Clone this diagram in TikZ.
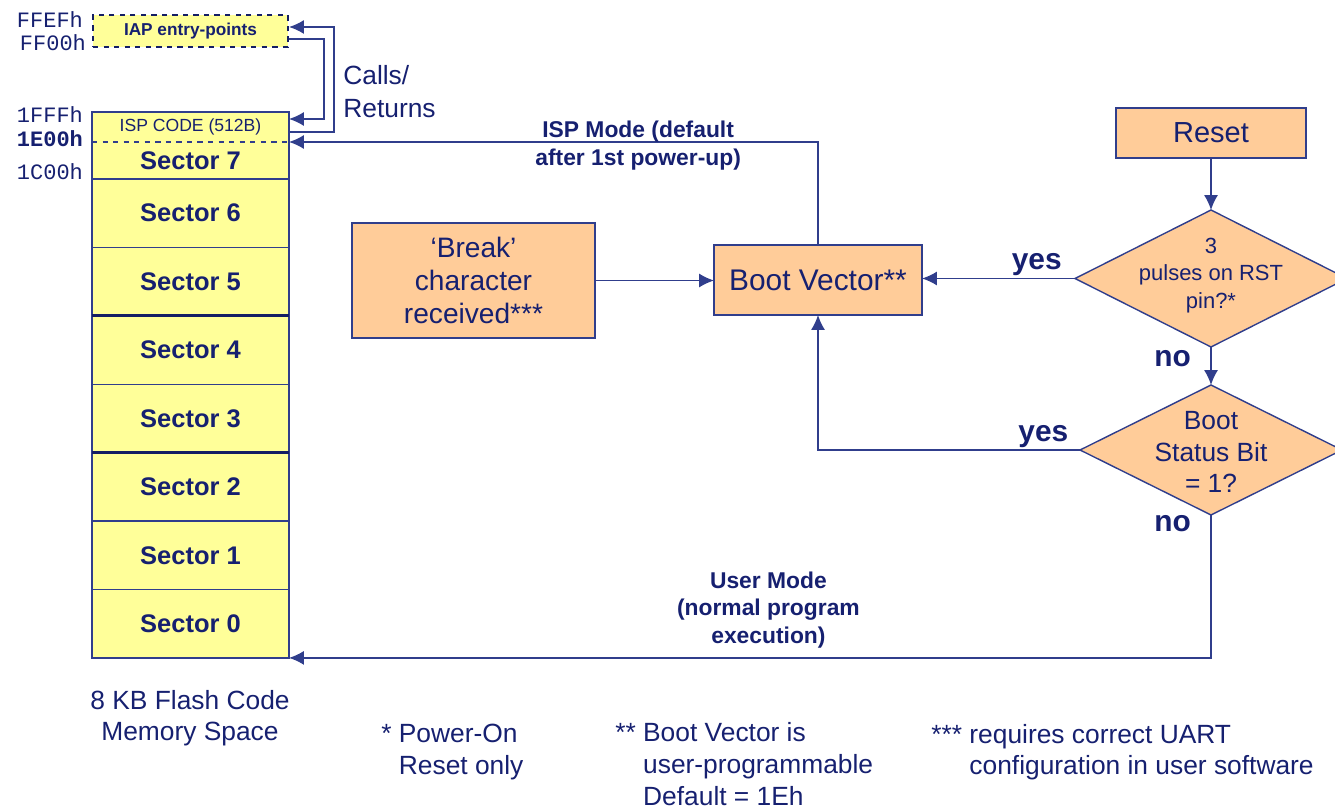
\documentclass[tikz,border=0pt]{standalone}
\usepackage{fontspec}
\setmainfont{Liberation Sans}
\setmonofont{Liberation Mono}
\usepackage{tikz}
\usetikzlibrary{calc,shapes,arrows.meta,positioning}
\definecolor{texto}{RGB}{22,32,112}
\definecolor{linea}{RGB}{48,62,140}
\definecolor{oscura}{RGB}{20,30,100}
\definecolor{amarillo}{RGB}{255,255,153}
\definecolor{naranja}{RGB}{255,204,153}
\tikzset{
    dir/.style={anchor=east,inner sep=1pt,text=texto,font=\ttfamily\fontsize{12.5}{14}\selectfont},
    sector/.style={rectangle,draw=linea,fill=amarillo,line width=0.8pt,outer sep=0pt,minimum width=3.94cm,minimum height=1.3686cm,text=texto,font=\bfseries\fontsize{14.5}{17}\selectfont},
    iapbox/.style={rectangle,draw=oscura,dashed,line width=1.2pt,fill=amarillo,minimum width=3.9cm,minimum height=0.64cm,text=texto,font=\bfseries\fontsize{9.8}{12}\selectfont},
    bloque/.style={rectangle,draw=linea,fill=naranja,line width=0.8pt,outer sep=0pt,align=center,text=texto},
    decision/.style={diamond,draw=linea,fill=naranja,line width=0.8pt,outer sep=0pt,inner sep=0pt},
    texdec/.style={align=center,text=texto,inner sep=0pt},
    resp/.style={text=texto,inner sep=1pt,font=\bfseries\fontsize{17}{20}\selectfont},
    modo/.style={align=center,text=texto,font=\bfseries\fontsize{13}{16.4}\selectfont},
    nota/.style={anchor=west,align=left,inner sep=0pt,text=texto,font=\fontsize{15}{18}\selectfont},
    flecha/.style={draw=linea,line width=0.85pt,-{Latex[length=8.5pt,width=8pt]}},
}
\begin{document}
\begin{tikzpicture}[x=0.02cm,y=-0.02cm]
\useasboundingbox (0,0) rectangle (1335,810);

\node[iapbox] (iap) at (190.5,31) {IAP entry-points};
\node[sector,draw=none,minimum height=0.6cm,font=\fontsize{10}{12}\selectfont] (isp) at (190.5,127) {ISP CODE (512B)};
\node[sector,draw=none,minimum height=0.74cm,below=0pt of isp] (sec7) {Sector 7};
\foreach \i [evaluate=\i as \j using int(\i+1)] in {6,...,0}
    \node[sector,below=0pt of sec\j] (sec\i) {Sector \i};
\draw[linea,line width=0.8pt] (isp.north west) rectangle (sec7.south east);
\draw[linea,line width=0.8pt,dashed] (isp.south west) -- (isp.south east);
\draw[oscura,line width=1.6pt] (sec5.south west) -- (sec5.south east);
\draw[oscura,line width=1.6pt] (sec3.south west) -- (sec3.south east);

\node[dir] (a1) at (85,20) {FFEFh};
\node[dir] (a2) at (88,43) {FF00h};
\node[dir] (a3) at (85,115) {1FFFh};
\node[dir,font=\ttfamily\bfseries\fontsize{12.5}{14}\selectfont] (a4) at (85,139) {1E00h};
\node[dir] (a5) at (85,172) {1C00h};

\draw[flecha] ($(iap.east)+(0,8)$) -- ++(35,0) |- ($(isp.east)+(0,-8)$);
\draw[flecha] ($(isp.east)+(0,5)$) -- ++(45,0) |- ($(iap.east)+(0,-4)$);
\node[anchor=west,align=left,inner sep=0pt,text=texto,font=\fontsize{15}{18.7}\selectfont] (llamadas) at (343,91.5) {Calls/\\Returns};

\node[bloque,minimum width=4.86cm,minimum height=2.3cm,font=\fontsize{16}{18.7}\selectfont] (brk) at (473.5,280.5) {‘Break’\\character\\received***};
\node[bloque,minimum width=4.16cm,minimum height=1.4cm,font=\fontsize{17}{20}\selectfont] (boot) at (818,280) {Boot Vector**};
\node[bloque,minimum width=3.8cm,minimum height=1cm,font=\fontsize{16.5}{20}\selectfont] (reset) at (1211,133) {Reset};
\node[decision,minimum width=5.44cm,minimum height=2.74cm] (d1) at (1211,278.5) {};
\node[texdec,font=\fontsize{12.5}{15.6}\selectfont] (d1txt) at ($(d1)+(0,-3)$) {3\\pulses on RST\\pin?*};
\node[decision,minimum width=5.24cm,minimum height=2.6cm] (d2) at (1211,450) {};
\node[texdec,font=\fontsize{15}{18}\selectfont] (d2txt) at ($(d2)+(0,2)$) {Boot\\Status Bit\\= 1?};

\draw[flecha] (reset) -- (d1);
\draw[flecha] (d1.west) -- node[resp,above,pos=0.25] (si1) {yes} (d1.west -| boot.east);
\draw[flecha] (d1) -- node[resp,pos=0.3,left=10pt] (no1) {no} (d2);
\draw[flecha] (d2.west) -| node[resp,above,pos=0.07] (si2) {yes} (boot.south);
\draw[flecha] (brk.east) -- (brk.east -| boot.west);
\draw[flecha] (boot.north) |- node[modo,pos=0.67,yshift=-2pt] (ispmodo) {ISP Mode (default\\after 1st power-up)} (isp.south east);
\draw[flecha] (d2.south) |- node[resp,pos=0.03,left=10pt] (no2) {no}
    node[modo,pos=0.74,above=2pt,font=\bfseries\fontsize{13}{15.6}\selectfont] (usuario) {User Mode\\(normal program\\execution)} (sec0.south east);

\node[align=center,text=texto,font=\fontsize{15}{18}\selectfont] (memoria) at (190,718) {8 KB Flash Code\\Memory Space};
\node[nota] (nota1) at (381,752) {* Power-On\\\hphantom{*}\ Reset only};
\node[nota] (nota2) at (615,764) {** Boot Vector is\\\hphantom{**}\ user-programmable\\\hphantom{**}\ Default = 1Eh};
\node[nota] (nota3) at (931,752) {*** requires correct UART\\\hphantom{***}\ configuration in user software};
\end{tikzpicture}
\end{document}
